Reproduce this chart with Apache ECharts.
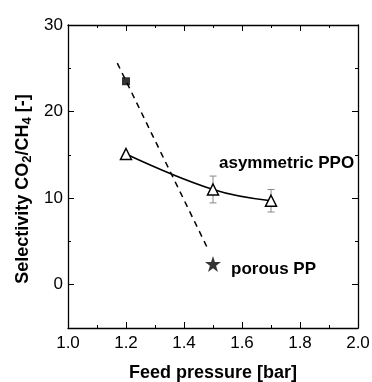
<!DOCTYPE html>
<html>
<head>
<meta charset="utf-8">
<script src="https://cdn.jsdelivr.net/npm/echarts@6/dist/echarts.min.js"></script>
<style>
  html, body { margin: 0; background: #fff; }
  #chart { width: 372px; height: 382px; }
</style>
</head>
<body>
<div id="chart"></div>
<script>
// feed pressure ticks / labels
const xTicks = [1.0, 1.2, 1.4, 1.6, 1.8, 2.0];
const yTickLabels = [0, 10, 20, 30];

// asymmetric PPO (open triangles, solid curve)
const ppoPressure = [1.2, 1.5, 1.7];
const ppoSelectivity = [15.1, 11.0, 9.7];
const ppoError = [0, 1.55, 1.3];

// porous PP (square + star, dashed trend)
const ppSquare = [1.2, 23.5];
const ppStar = [1.5, 2.4];
const ppTrendX = [1.17, 1.48];
const ppTrendY = [25.6, 4.3];

const font = 'Liberation Sans';
const starPath = 'path://M50 0L61.2 34.5L97.6 34.5L68.2 55.9L79.4 90.5L50 69.1L20.6 90.5L31.8 55.9L2.4 34.5L38.8 34.5Z';

const chart = echarts.init(document.getElementById('chart'));

const axisLine = { show: true, onZero: false, lineStyle: { color: '#000', width: 1.3 } };

const baseX = {
  type: 'value', min: 1, max: 2, interval: 0.2,
  splitLine: { show: false },
  axisLine,
  axisTick: { show: true, inside: true, length: 6, lineStyle: { color: '#000', width: 1 } },
  minorTick: { show: true, splitNumber: 2, length: 3, lineStyle: { color: '#000', width: 1 } },
};
const baseY = {
  type: 'value', min: -5, max: 30, interval: 5,
  splitLine: { show: false },
  axisLine,
  axisTick: { show: true, inside: true, length: 3, lineStyle: { color: '#000', width: 1 } },
  axisLabel: { show: false },
};
const majorY = {
  ...baseY,
  axisLine: { show: false, onZero: false },
  axisTick: { show: true, inside: true, length: 6, customValues: yTickLabels, lineStyle: { color: '#000', width: 1 } },
};

const errorData = ppoPressure
  .map((p, i) => [p, ppoSelectivity[i] - ppoError[i], ppoSelectivity[i] + ppoError[i]])
  .filter((d, i) => ppoError[i] > 0);

chart.setOption({
  animation: false,
  grid: { left: 68, right: 14, top: 25, bottom: 54, outerBoundsMode: 'none' },
  xAxis: [
    {
      ...baseX, position: 'bottom',
      axisLabel: {
        color: '#000', fontSize: 17, fontFamily: font, margin: 7,
        formatter: (v) => v.toFixed(1),
      },
      name: 'Feed pressure [bar]', nameLocation: 'middle', nameGap: 36,
      nameTextStyle: { color: '#000', fontSize: 18, fontWeight: 'bold', fontFamily: font },
    },
    { ...baseX, position: 'top', axisLabel: { show: false } },
  ],
  yAxis: [
    {
      ...baseY, position: 'left',
      axisLabel: { show: true, customValues: yTickLabels, color: '#000', fontSize: 17, fontFamily: font, margin: 5 },
    },
    { ...majorY, position: 'left' },
    { ...baseY, position: 'right' },
    { ...majorY, position: 'right' },
  ],
  graphic: [
    {
      type: 'text', x: 23, y: 189, rotation: Math.PI / 2,
      style: {
        text: '{b|Selectivity CO}{s|2}{b|/CH}{s|4}{b| [-]}',
        align: 'center', verticalAlign: 'middle',
        rich: {
          b: { fontSize: 18, fontWeight: 'bold', fontFamily: font, lineHeight: 22, fill: '#000' },
          s: { fontSize: 13, fontWeight: 'bold', fontFamily: font, lineHeight: 13, verticalAlign: 'bottom', fill: '#000' },
        },
      },
    },
    {
      type: 'text', x: 219, y: 163,
      style: { text: 'asymmetric PPO', fontSize: 17, fontWeight: 'bold', fontFamily: font, fill: '#000', verticalAlign: 'middle' },
    },
    {
      type: 'text', x: 231, y: 269,
      style: { text: 'porous PP', fontSize: 17, fontWeight: 'bold', fontFamily: font, fill: '#000', verticalAlign: 'middle' },
    },
  ],
  series: [
    {
      name: 'porous PP trend', type: 'line',
      data: ppTrendX.map((x, i) => [x, ppTrendY[i]]),
      showSymbol: false, symbol: 'none',
      lineStyle: { color: '#000', width: 1.5, type: [6, 5] },
      z: 2,
    },
    {
      name: 'error', type: 'custom',
      renderItem: (params, api) => {
        const lo = api.coord([api.value(0), api.value(1)]);
        const hi = api.coord([api.value(0), api.value(2)]);
        const w = 3.5;
        const style = { stroke: '#888', lineWidth: 1 };
        return {
          type: 'group',
          children: [
            { type: 'line', shape: { x1: lo[0], y1: lo[1], x2: hi[0], y2: hi[1] }, style },
            { type: 'line', shape: { x1: lo[0] - w, y1: lo[1], x2: lo[0] + w, y2: lo[1] }, style },
            { type: 'line', shape: { x1: hi[0] - w, y1: hi[1], x2: hi[0] + w, y2: hi[1] }, style },
          ],
        };
      },
      data: errorData,
      z: 1,
    },
    {
      name: 'asymmetric PPO', type: 'line',
      data: ppoPressure.map((p, i) => [p, ppoSelectivity[i]]),
      smooth: 0.4,
      symbol: 'triangle', symbolSize: 11, showAllSymbol: true,
      itemStyle: { color: '#fff', borderColor: '#000', borderWidth: 1.5 },
      lineStyle: { color: '#000', width: 1.5 },
      z: 3,
    },
    {
      name: 'porous PP square', type: 'scatter',
      data: [ppSquare], symbol: 'rect', symbolSize: 8,
      itemStyle: { color: '#000' }, z: 3,
    },
    {
      name: 'porous PP star', type: 'scatter',
      data: [ppStar], symbol: starPath, symbolSize: [16, 16],
      itemStyle: { color: '#000' }, z: 3,
    },
  ],
});
</script>
</body>
</html>
